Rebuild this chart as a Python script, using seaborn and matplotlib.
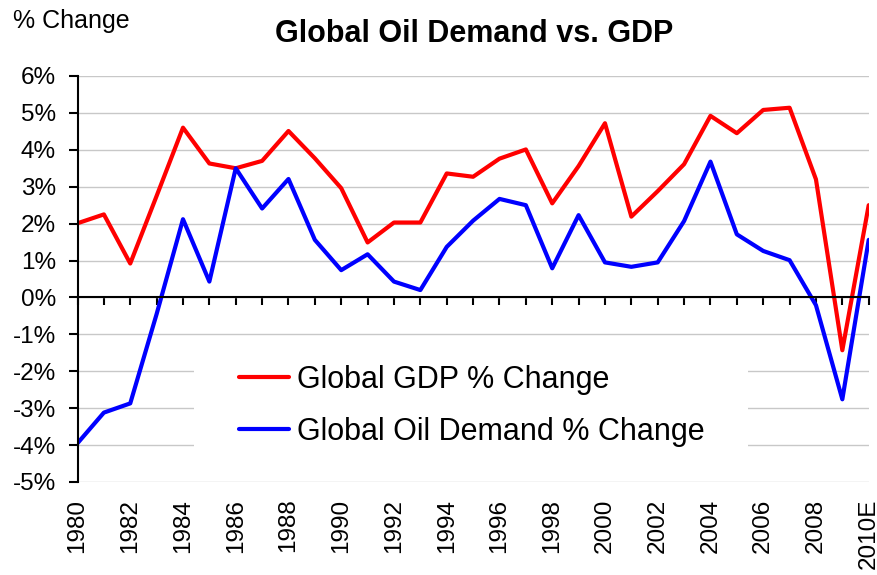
import matplotlib
matplotlib.use('Agg')
import matplotlib.pyplot as plt
from matplotlib.patches import Rectangle
import numpy as np
import pandas as pd
import seaborn as sns

# data
years = list(range(1980, 2011))
gdp_change = [2.01, 2.25, 0.92, 2.75, 4.60, 3.63, 3.50, 3.70, 4.51, 3.77,
              2.96, 1.49, 2.03, 2.03, 3.36, 3.27, 3.76, 4.01, 2.55, 3.56,
              4.72, 2.19, 2.88, 3.61, 4.92, 4.45, 5.08, 5.14, 3.20, -1.43,
              2.50]
oil_change = [-3.95, -3.12, -2.87, -0.45, 2.12, 0.43, 3.50, 2.41, 3.21, 1.56,
              0.74, 1.17, 0.43, 0.20, 1.37, 2.08, 2.67, 2.50, 0.79, 2.23,
              0.95, 0.83, 0.95, 2.07, 3.68, 1.71, 1.26, 1.01, -0.21, -2.76,
              1.56]
series_names = ['Global GDP % Change', 'Global Oil Demand % Change']
series_colors = ['#ff0000', '#0000ff']
y_ticks = list(range(-5, 7))
y_labels = ['%d%%' % v for v in y_ticks]
x_label_years = list(range(1980, 2011, 2))
x_labels = [str(y) for y in x_label_years[:-1]] + ['2010E']

# long format for seaborn
df = pd.DataFrame({
    'year': years * 2,
    'value': gdp_change + oil_change,
    'series': [series_names[0]] * len(years) + [series_names[1]] * len(years),
})

sns.set_theme(style='white')
plt.rcParams['font.family'] = ['Liberation Sans', 'DejaVu Sans']

fig = plt.figure(figsize=(8.77, 5.75), dpi=100)
ax = fig.add_axes([77.5 / 877, 1 - 482 / 575, 791.2 / 877, 406 / 575])

sns.lineplot(data=df, x='year', y='value', hue='series', hue_order=series_names,
             palette=dict(zip(series_names, series_colors)), linewidth=3.0,
             ax=ax, legend=True)

ax.set_xlim(1980, 2010)
ax.set_ylim(-5, 6)
ax.set_xlabel('')
ax.set_ylabel('')

# gridlines
ax.set_axisbelow(True)
ax.yaxis.grid(True, color='#c8c8c8', linewidth=1.0)
ax.xaxis.grid(False)

# spines: left and a zero line with year ticks
for s in ['top', 'right']:
    ax.spines[s].set_visible(False)
ax.spines['left'].set_color('black')
ax.spines['left'].set_linewidth(1.5)
ax.spines['bottom'].set_position(('data', 0))
ax.spines['bottom'].set_color('black')
ax.spines['bottom'].set_linewidth(1.5)

ax.set_xticks(years)
ax.tick_params(axis='x', direction='out', length=5.5, width=1.5, color='black',
               bottom=True, labelbottom=False)
ax.set_yticks(y_ticks, labels=y_labels)
ax.tick_params(axis='y', direction='out', length=6.5, width=1.5, color='black',
               left=True, pad=9, labelsize=17.5, labelcolor='black')

# year labels below the plot area
sec = ax.secondary_xaxis('bottom')
sec.set_xticks(x_label_years, labels=x_labels)
sec.tick_params(axis='x', length=0, pad=12, labelsize=17.5, labelrotation=90,
                labelcolor='black')
sec.spines['bottom'].set_visible(False)

# white legend box hiding the grid
ax.add_patch(Rectangle((0.147, 0.03), 0.70, 0.285, transform=ax.transAxes,
                       facecolor='white', edgecolor='none', zorder=1))
handles, labels = ax.get_legend_handles_labels()
ax.legend(handles, labels, loc='center left', bbox_to_anchor=(0.185, 0.188),
          frameon=False, fontsize=22, borderpad=0, handlelength=1.63,
          handletextpad=0.26, labelspacing=0.72, labelcolor='black')

fig.text(474 / 877, 1 - 41.7 / 575, 'Global Oil Demand vs. GDP', ha='center',
         va='baseline', fontsize=22, fontweight='bold', color='black')
fig.text(13.3 / 877, 1 - 28 / 575, '% Change', ha='left', va='baseline',
         fontsize=18, color='black')

fig.savefig('out.png', dpi=100)
